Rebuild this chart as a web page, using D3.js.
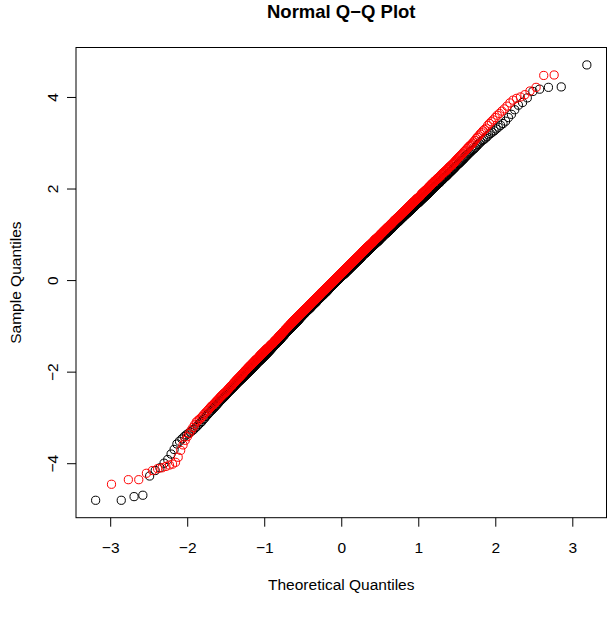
<!DOCTYPE html>
<html>
<head>
<meta charset="utf-8">
<script src="https://cdn.jsdelivr.net/npm/d3@7"></script>
<style>
  html, body { margin: 0; padding: 0; background: #fff; }
  svg { display: block; }
  text { font-family: "Liberation Sans", Arial, Helvetica, sans-serif; fill: #000; }
</style>
</head>
<body>
<svg id="chart" width="613" height="619"></svg>
<script>
// ---- data: sorted sample quantiles ----
const blackSample = [
-4.81,-4.81,-4.73,-4.70,-4.28,-4.16,-4.10,-4.00,-3.92,-3.80,-3.70,-3.58,-3.52,-3.47,-3.42,-3.38,-3.35,-3.32,-3.29,-3.26,
-3.22,-3.19,-3.15,-3.12,-3.09,-3.05,-3.02,-2.98,-2.95,-2.92,
-2.89,-2.86,-2.84,-2.81,-2.79,-2.76,-2.74,-2.71,-2.69,-2.66,
-2.64,-2.62,-2.60,-2.58,-2.56,-2.54,-2.52,-2.50,-2.48,-2.46,
-2.44,-2.42,-2.41,-2.39,-2.37,-2.36,-2.34,-2.32,-2.31,-2.29,
-2.27,-2.26,-2.24,-2.23,-2.21,-2.20,-2.19,-2.17,-2.16,-2.15,
-2.13,-2.12,-2.11,-2.09,-2.08,-2.07,-2.05,-2.04,-2.03,-2.02,
-2.00,-1.99,-1.98,-1.97,-1.96,-1.94,-1.93,-1.92,-1.91,-1.90,
-1.88,-1.87,-1.86,-1.85,-1.84,-1.82,-1.81,-1.80,-1.79,-1.78,
-1.77,-1.76,-1.75,-1.74,-1.73,-1.72,-1.71,-1.70,-1.69,-1.68,
-1.67,-1.66,-1.65,-1.64,-1.63,-1.62,-1.61,-1.60,-1.59,-1.58,
-1.57,-1.56,-1.55,-1.54,-1.53,-1.52,-1.51,-1.50,-1.49,-1.48,
-1.47,-1.46,-1.45,-1.44,-1.43,-1.42,-1.41,-1.40,-1.40,-1.39,
-1.38,-1.37,-1.36,-1.35,-1.34,-1.33,-1.32,-1.31,-1.31,-1.30,
-1.29,-1.28,-1.27,-1.26,-1.25,-1.24,-1.23,-1.22,-1.22,-1.21,
-1.20,-1.19,-1.18,-1.17,-1.16,-1.15,-1.14,-1.13,-1.13,-1.12,
-1.11,-1.10,-1.09,-1.09,-1.08,-1.07,-1.06,-1.06,-1.05,-1.04,
-1.04,-1.03,-1.02,-1.01,-1.00,-1.00,-0.99,-0.98,-0.97,-0.96,
-0.96,-0.95,-0.94,-0.94,-0.93,-0.92,-0.91,-0.91,-0.90,-0.89,
-0.89,-0.88,-0.87,-0.86,-0.85,-0.85,-0.84,-0.83,-0.82,-0.81,
-0.81,-0.80,-0.79,-0.79,-0.78,-0.77,-0.76,-0.76,-0.75,-0.74,
-0.74,-0.73,-0.72,-0.72,-0.71,-0.70,-0.69,-0.69,-0.68,-0.67,
-0.67,-0.66,-0.66,-0.65,-0.64,-0.64,-0.63,-0.63,-0.62,-0.61,
-0.61,-0.60,-0.59,-0.59,-0.58,-0.57,-0.56,-0.56,-0.55,-0.54,
-0.54,-0.53,-0.53,-0.52,-0.51,-0.51,-0.50,-0.50,-0.49,-0.48,
-0.48,-0.47,-0.46,-0.46,-0.45,-0.44,-0.43,-0.43,-0.42,-0.41,
-0.41,-0.40,-0.40,-0.39,-0.38,-0.38,-0.37,-0.37,-0.36,-0.35,
-0.35,-0.34,-0.34,-0.33,-0.32,-0.32,-0.31,-0.31,-0.30,-0.29,
-0.29,-0.28,-0.28,-0.27,-0.26,-0.26,-0.25,-0.25,-0.24,-0.23,
-0.23,-0.22,-0.21,-0.21,-0.20,-0.19,-0.18,-0.18,-0.17,-0.16,
-0.16,-0.15,-0.15,-0.14,-0.13,-0.13,-0.12,-0.12,-0.11,-0.10,
-0.10,-0.09,-0.09,-0.08,-0.07,-0.07,-0.06,-0.06,-0.05,-0.04,
-0.04,-0.03,-0.03,-0.02,-0.01,-0.01,0.00,0.00,0.01,0.02,
0.02,0.03,0.03,0.04,0.05,0.05,0.06,0.06,0.07,0.08,
0.08,0.09,0.09,0.10,0.10,0.11,0.11,0.12,0.12,0.13,
0.13,0.14,0.14,0.15,0.16,0.16,0.17,0.17,0.18,0.19,
0.19,0.20,0.20,0.21,0.22,0.22,0.23,0.23,0.24,0.25,
0.25,0.26,0.26,0.27,0.28,0.28,0.29,0.29,0.30,0.31,
0.31,0.32,0.32,0.33,0.34,0.34,0.35,0.35,0.36,0.37,
0.37,0.38,0.38,0.39,0.40,0.40,0.41,0.41,0.42,0.43,
0.43,0.44,0.44,0.45,0.46,0.46,0.47,0.47,0.48,0.49,
0.49,0.50,0.51,0.51,0.52,0.53,0.54,0.54,0.55,0.56,
0.56,0.57,0.57,0.58,0.58,0.59,0.59,0.60,0.60,0.61,
0.61,0.62,0.63,0.63,0.64,0.65,0.66,0.66,0.67,0.68,
0.68,0.69,0.69,0.70,0.71,0.71,0.72,0.72,0.73,0.74,
0.74,0.75,0.75,0.76,0.77,0.77,0.78,0.78,0.79,0.80,
0.80,0.81,0.81,0.82,0.83,0.83,0.84,0.84,0.85,0.86,
0.86,0.87,0.88,0.88,0.89,0.90,0.91,0.91,0.92,0.93,
0.93,0.94,0.95,0.95,0.96,0.97,0.98,0.98,0.99,1.00,
1.00,1.01,1.01,1.02,1.03,1.03,1.04,1.04,1.05,1.06,
1.06,1.07,1.08,1.08,1.09,1.10,1.11,1.11,1.12,1.13,
1.13,1.14,1.15,1.16,1.17,1.17,1.18,1.19,1.20,1.21,
1.21,1.22,1.23,1.23,1.24,1.25,1.26,1.26,1.27,1.28,
1.28,1.29,1.30,1.31,1.32,1.32,1.33,1.34,1.35,1.36,
1.36,1.37,1.38,1.39,1.40,1.40,1.41,1.42,1.43,1.44,
1.44,1.45,1.46,1.47,1.48,1.48,1.49,1.50,1.51,1.52,
1.52,1.53,1.54,1.55,1.56,1.57,1.58,1.59,1.59,1.60,
1.61,1.62,1.63,1.64,1.65,1.66,1.67,1.68,1.68,1.69,
1.70,1.71,1.72,1.73,1.74,1.75,1.76,1.77,1.78,1.79,
1.80,1.81,1.82,1.83,1.84,1.85,1.86,1.87,1.88,1.89,
1.91,1.92,1.93,1.94,1.95,1.97,1.98,1.99,2.00,2.01,
2.03,2.04,2.05,2.06,2.07,2.09,2.10,2.11,2.12,2.13,
2.15,2.16,2.18,2.19,2.20,2.22,2.23,2.25,2.26,2.27,
2.29,2.30,2.32,2.34,2.35,2.37,2.38,2.40,2.42,2.43,
2.45,2.47,2.49,2.51,2.53,2.54,2.56,2.58,2.60,2.62,
2.64,2.66,2.69,2.71,2.73,2.76,2.78,2.80,2.83,2.85,
2.87,2.90,2.93,2.96,2.99,3.02,3.05,3.07,3.10,3.13,
3.17,3.20,3.23,3.26,3.30,3.34,3.38,3.42,3.47,3.55,3.62,3.72,3.82,3.88,3.98,4.12,4.17,4.21,4.22,4.70
];

const redSample = [
-4.46,-4.36,-4.36,-4.22,-4.16,-4.12,-4.10,-4.07,-4.04,-4.02,-3.98,-3.87,-3.72,-3.60,-3.50,-3.42,-3.35,-3.28,-3.22,-3.16,
-3.10,-3.07,-3.04,-3.01,-2.98,-2.94,-2.91,-2.88,-2.85,-2.82,
-2.79,-2.76,-2.74,-2.72,-2.69,-2.67,-2.64,-2.62,-2.60,-2.57,
-2.55,-2.53,-2.51,-2.49,-2.47,-2.46,-2.44,-2.42,-2.40,-2.38,
-2.36,-2.34,-2.32,-2.31,-2.29,-2.27,-2.25,-2.23,-2.22,-2.20,
-2.18,-2.17,-2.15,-2.14,-2.12,-2.11,-2.09,-2.08,-2.06,-2.05,
-2.03,-2.02,-2.00,-1.99,-1.97,-1.96,-1.95,-1.93,-1.92,-1.91,
-1.89,-1.88,-1.87,-1.86,-1.85,-1.83,-1.82,-1.81,-1.80,-1.79,
-1.77,-1.76,-1.75,-1.74,-1.73,-1.72,-1.71,-1.70,-1.69,-1.68,
-1.66,-1.65,-1.64,-1.63,-1.62,-1.61,-1.60,-1.59,-1.58,-1.57,
-1.56,-1.55,-1.54,-1.53,-1.52,-1.51,-1.50,-1.49,-1.49,-1.48,
-1.47,-1.46,-1.45,-1.44,-1.43,-1.42,-1.41,-1.40,-1.40,-1.39,
-1.38,-1.37,-1.36,-1.35,-1.34,-1.33,-1.32,-1.31,-1.31,-1.30,
-1.29,-1.28,-1.27,-1.26,-1.25,-1.24,-1.23,-1.22,-1.22,-1.21,
-1.20,-1.19,-1.18,-1.17,-1.16,-1.15,-1.14,-1.13,-1.13,-1.12,
-1.11,-1.10,-1.09,-1.08,-1.07,-1.07,-1.06,-1.05,-1.04,-1.03,
-1.03,-1.02,-1.01,-1.00,-0.99,-0.99,-0.98,-0.97,-0.96,-0.95,
-0.95,-0.94,-0.93,-0.92,-0.91,-0.91,-0.90,-0.89,-0.88,-0.87,
-0.87,-0.86,-0.85,-0.85,-0.84,-0.83,-0.82,-0.82,-0.81,-0.80,
-0.80,-0.79,-0.78,-0.78,-0.77,-0.76,-0.75,-0.75,-0.74,-0.73,
-0.73,-0.72,-0.71,-0.71,-0.70,-0.69,-0.68,-0.68,-0.67,-0.66,
-0.66,-0.65,-0.65,-0.64,-0.63,-0.63,-0.62,-0.62,-0.61,-0.60,
-0.60,-0.59,-0.58,-0.58,-0.57,-0.56,-0.55,-0.55,-0.54,-0.53,
-0.53,-0.52,-0.51,-0.51,-0.50,-0.49,-0.48,-0.48,-0.47,-0.46,
-0.46,-0.45,-0.45,-0.44,-0.43,-0.43,-0.42,-0.42,-0.41,-0.40,
-0.40,-0.39,-0.39,-0.38,-0.37,-0.37,-0.36,-0.36,-0.35,-0.34,
-0.34,-0.33,-0.32,-0.32,-0.31,-0.30,-0.29,-0.29,-0.28,-0.27,
-0.27,-0.26,-0.26,-0.25,-0.24,-0.24,-0.23,-0.23,-0.22,-0.21,
-0.21,-0.20,-0.20,-0.19,-0.18,-0.18,-0.17,-0.17,-0.16,-0.15,
-0.15,-0.14,-0.14,-0.13,-0.12,-0.12,-0.11,-0.11,-0.10,-0.09,
-0.09,-0.08,-0.08,-0.07,-0.06,-0.06,-0.05,-0.05,-0.04,-0.03,
-0.03,-0.02,-0.02,-0.01,0.00,0.00,0.01,0.01,0.02,0.03,
0.03,0.04,0.04,0.05,0.06,0.06,0.07,0.07,0.08,0.09,
0.09,0.10,0.10,0.11,0.12,0.12,0.13,0.13,0.14,0.15,
0.15,0.16,0.16,0.17,0.18,0.18,0.19,0.19,0.20,0.21,
0.21,0.22,0.22,0.23,0.24,0.24,0.25,0.25,0.26,0.27,
0.27,0.28,0.28,0.29,0.30,0.30,0.31,0.31,0.32,0.33,
0.33,0.34,0.34,0.35,0.36,0.36,0.37,0.37,0.38,0.39,
0.39,0.40,0.40,0.41,0.42,0.42,0.43,0.43,0.44,0.45,
0.45,0.46,0.46,0.47,0.48,0.48,0.49,0.49,0.50,0.51,
0.51,0.52,0.52,0.53,0.54,0.54,0.55,0.55,0.56,0.57,
0.57,0.58,0.59,0.59,0.60,0.61,0.62,0.62,0.63,0.64,
0.64,0.65,0.65,0.66,0.67,0.67,0.68,0.68,0.69,0.70,
0.70,0.71,0.71,0.72,0.73,0.73,0.74,0.74,0.75,0.76,
0.76,0.77,0.77,0.78,0.79,0.79,0.80,0.80,0.81,0.82,
0.82,0.83,0.84,0.84,0.85,0.86,0.87,0.87,0.88,0.89,
0.89,0.90,0.90,0.91,0.92,0.92,0.93,0.93,0.94,0.95,
0.95,0.96,0.97,0.97,0.98,0.99,1.00,1.00,1.01,1.02,
1.02,1.03,1.04,1.04,1.05,1.06,1.07,1.07,1.08,1.09,
1.09,1.10,1.11,1.11,1.12,1.13,1.14,1.14,1.15,1.16,
1.16,1.17,1.18,1.18,1.19,1.20,1.21,1.21,1.22,1.23,
1.23,1.24,1.25,1.26,1.27,1.27,1.28,1.29,1.30,1.31,
1.31,1.32,1.33,1.33,1.34,1.35,1.36,1.36,1.37,1.38,
1.38,1.39,1.40,1.41,1.42,1.42,1.43,1.44,1.45,1.46,
1.46,1.47,1.48,1.49,1.50,1.50,1.51,1.52,1.53,1.54,
1.54,1.55,1.56,1.57,1.58,1.59,1.60,1.61,1.61,1.62,
1.63,1.64,1.65,1.66,1.67,1.68,1.69,1.70,1.70,1.71,
1.72,1.73,1.74,1.75,1.76,1.77,1.78,1.79,1.79,1.80,
1.81,1.82,1.83,1.84,1.85,1.87,1.88,1.89,1.90,1.91,
1.92,1.93,1.94,1.95,1.96,1.97,1.98,1.99,2.00,2.01,
2.03,2.04,2.05,2.06,2.07,2.09,2.10,2.11,2.12,2.13,
2.15,2.16,2.17,2.18,2.19,2.21,2.22,2.23,2.24,2.25,
2.27,2.28,2.30,2.31,2.33,2.34,2.35,2.37,2.38,2.39,
2.41,2.42,2.44,2.46,2.47,2.49,2.50,2.52,2.53,2.55,
2.57,2.59,2.61,2.63,2.65,2.67,2.69,2.71,2.73,2.75,
2.77,2.80,2.82,2.84,2.87,2.89,2.92,2.94,2.96,2.99,
3.02,3.05,3.09,3.12,3.15,3.19,3.22,3.26,3.29,3.32,
3.38,3.42,3.46,3.50,3.55,3.60,3.64,3.69,3.74,3.80,3.87,3.93,3.97,4.00,4.05,4.13,4.21,4.47,4.48,5.20
];

const xTickValues = [-3, -2, -1, 0, 1, 2, 3];
const yTickValues = [-4, -2, 0, 2, 4];
const titleText = "Normal Q\u2212Q Plot";
const xLabel = "Theoretical Quantiles";
const yLabel = "Sample Quantiles";

// ---- normal quantile function (Acklam) and plotting positions ----
function qnorm(p) {
  const a = [-3.969683028665376e+01, 2.209460984245205e+02, -2.759285104469687e+02,
             1.383577518672690e+02, -3.066479806614716e+01, 2.506628277459239e+00];
  const b = [-5.447609879822406e+01, 1.615858368580409e+02, -1.556989798598866e+02,
             6.680131188771972e+01, -1.328068155288572e+01];
  const c = [-7.784894002430293e-03, -3.223964580411365e-01, -2.400758277161838e+00,
             -2.549732539343734e+00, 4.374664141464968e+00, 2.938163982698783e+00];
  const d = [7.784695709041462e-03, 3.224671290700398e-01, 2.445134137142996e+00,
             3.754408661907416e+00];
  const pl = 0.02425;
  let q, r;
  if (p < pl) {
    q = Math.sqrt(-2 * Math.log(p));
    return (((((c[0]*q+c[1])*q+c[2])*q+c[3])*q+c[4])*q+c[5]) / ((((d[0]*q+d[1])*q+d[2])*q+d[3])*q+1);
  } else if (p <= 1 - pl) {
    q = p - 0.5; r = q * q;
    return (((((a[0]*r+a[1])*r+a[2])*r+a[3])*r+a[4])*r+a[5])*q / (((((b[0]*r+b[1])*r+b[2])*r+b[3])*r+b[4])*r+1);
  } else {
    q = Math.sqrt(-2 * Math.log(1 - p));
    return -(((((c[0]*q+c[1])*q+c[2])*q+c[3])*q+c[4])*q+c[5]) / ((((d[0]*q+d[1])*q+d[2])*q+d[3])*q+1);
  }
}
// plotting positions (i - a) / (n + 1 - 2a)
function ppoints(n, a) {
  return d3.range(1, n + 1).map(i => (i - a) / (n + 1 - 2 * a));
}
function qq(sample, a) {
  const s = sample.slice().sort((u, v) => u - v);
  const p = ppoints(s.length, a);
  return s.map((y, i) => ({ x: qnorm(p[i]), y: y }));
}

const blackPts = qq(blackSample, 0.5);
const redPts = qq(redSample, 0);

// ---- layout ----
const svg = d3.select("#chart");
const box = { left: 76, right: 606.5, top: 47.5, bottom: 517.7 };
const lineH = 18.5;

function extend(ext) { const d = (ext[1] - ext[0]) * 0.04; return [ext[0] - d, ext[1] + d]; }

const x = d3.scaleLinear()
  .domain(extend(d3.extent(blackPts, d => d.x)))
  .range([box.left, box.right]);
const y = d3.scaleLinear()
  .domain(extend(d3.extent(blackPts, d => d.y)))
  .range([box.bottom, box.top]);

svg.append("defs").append("clipPath").attr("id", "plotclip")
  .append("rect")
  .attr("x", box.left).attr("y", box.top)
  .attr("width", box.right - box.left).attr("height", box.bottom - box.top);

const pts = svg.append("g").attr("clip-path", "url(#plotclip)");
function drawSeries(data, color) {
  pts.append("g")
    .selectAll("circle")
    .data(data)
    .join("circle")
    .attr("cx", d => x(d.x))
    .attr("cy", d => y(d.y))
    .attr("r", 4.1)
    .attr("fill", "none")
    .attr("stroke", color)
    .attr("stroke-width", 1);
}
drawSeries(blackPts, "#000000");
drawSeries(redPts, "#ff0000");

// box
svg.append("rect")
  .attr("x", box.left).attr("y", box.top)
  .attr("width", box.right - box.left).attr("height", box.bottom - box.top)
  .attr("fill", "none").attr("stroke", "#000").attr("stroke-width", 1);

const fmt = d3.format("d");

// x axis
const gx = svg.append("g")
  .attr("transform", `translate(0,${box.bottom})`)
  .call(d3.axisBottom(x).tickValues(xTickValues).tickFormat(fmt).tickSize(9).tickSizeOuter(0));
gx.select(".domain").remove();
gx.selectAll(".tick line").attr("stroke", "#000");
gx.selectAll(".tick text")
  .attr("y", 35.5).attr("dy", 0)
  .style("font-size", "15.5px")
  .style("font-family", "'Liberation Sans', Arial, sans-serif")
  .attr("fill", "#000");

// y axis
const gy = svg.append("g")
  .attr("transform", `translate(${box.left},0)`)
  .call(d3.axisLeft(y).tickValues(yTickValues).tickFormat(fmt).tickSize(9).tickSizeOuter(0));
gy.select(".domain").remove();
gy.selectAll(".tick line").attr("stroke", "#000");
gy.selectAll(".tick text")
  .attr("x", 0).attr("y", -lineH).attr("dy", 0)
  .attr("transform", "rotate(-90)")
  .style("text-anchor", "middle")
  .style("font-size", "15.5px")
  .style("font-family", "'Liberation Sans', Arial, sans-serif")
  .attr("fill", "#000");

// titles
svg.append("text")
  .attr("x", (box.left + box.right) / 2).attr("y", 18)
  .attr("text-anchor", "middle")
  .style("font-size", "18.5px").style("font-weight", "bold")
  .text(titleText);

svg.append("text")
  .attr("x", (box.left + box.right) / 2).attr("y", box.bottom + 4 * lineH - 2)
  .attr("text-anchor", "middle")
  .style("font-size", "15.5px")
  .text(xLabel);

svg.append("text")
  .attr("transform", `translate(${box.left - 3 * lineH},${(box.top + box.bottom) / 2}) rotate(-90)`)
  .attr("text-anchor", "middle")
  .style("font-size", "15.5px")
  .text(yLabel);
</script>
</body>
</html>
